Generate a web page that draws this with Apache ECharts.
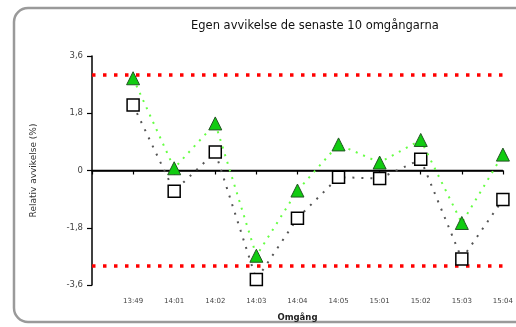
<!DOCTYPE html>
<html>
<head>
<meta charset="utf-8">
<script src="https://cdn.jsdelivr.net/npm/echarts@6/dist/echarts.min.js"></script>
<style>
  html, body { margin: 0; padding: 0; background: #fff; }
  #chart { width: 516px; height: 327px; }
</style>
</head>
<body>
<div id="chart"></div>
<script>
// Rounds (x-axis categories)
const rounds = ['13:49', '14:01', '14:02', '14:03', '14:04', '14:05', '15:01', '15:02', '15:03', '15:04'];
// Relative deviation per round (%)
const deviationA = [2.9, 0.07, 1.48, -2.68, -0.63, 0.82, 0.25, 0.96, -1.65, 0.5];
const deviationB = [2.06, -0.65, 0.58, -3.43, -1.5, -0.21, -0.25, 0.35, -2.78, -0.91];
// Limit lines
const upperLimit = 3;
const lowerLimit = -3;
// Y axis range
const yMin = -3.6, yMax = 3.6, yStep = 1.8;

const toPoints = arr => arr.map((v, i) => [i + 1, v]);
const span = v => [[0, v], [rounds.length, v]];

const font = 'DejaVu Sans, Verdana, sans-serif';
const chart = echarts.init(document.getElementById('chart'), null, { renderer: 'canvas' });

chart.setOption({
  animation: false,
  backgroundColor: '#fff',
  graphic: [{
    type: 'rect',
    shape: { x: 14, y: 8, width: 560, height: 314, r: 14 },
    style: { fill: 'none', stroke: '#9a9a9a', lineWidth: 2.5 },
    silent: true,
    z: -1
  }],
  title: {
    text: 'Egen avvikelse de senaste 10 omgångarna',
    left: 186, top: 15,
    textStyle: { fontFamily: font, fontSize: 11.5, fontWeight: 'normal', color: '#111' }
  },
  grid: { left: 92, top: 56, width: 414, height: 234, containLabel: false },
  xAxis: {
    type: 'value',
    min: 0, max: rounds.length, interval: 1,
    name: 'Omgång',
    nameLocation: 'middle',
    nameGap: 28,
    nameTextStyle: { fontFamily: font, fontSize: 8.5, fontWeight: 'bold', color: '#222' },
    axisLine: { lineStyle: { color: '#000', width: 1.5 } },
    axisTick: { length: 4, lineStyle: { color: '#000', width: 1.2 } },
    axisLabel: {
      fontFamily: font, fontSize: 7, color: '#444', margin: 13,
      formatter: v => (v >= 1 && v <= rounds.length) ? rounds[v - 1] : ''
    },
    splitLine: { show: false }
  },
  yAxis: {
    type: 'value',
    min: yMin, max: yMax, interval: yStep,
    name: 'Relativ avvikelse (%)',
    nameLocation: 'middle',
    nameGap: 54,
    nameRotate: 90,
    nameTextStyle: { fontFamily: font, fontSize: 9, color: '#333' },
    axisLine: { show: true, lineStyle: { color: '#000', width: 1.5 } },
    axisTick: { show: true, length: 5, lineStyle: { color: '#000', width: 1.2 } },
    axisLabel: {
      fontFamily: font, fontSize: 8.5, color: '#444', margin: 9,
      formatter: v => String(Math.round(v * 10) / 10).replace('.', ',')
    },
    splitLine: { show: false }
  },
  series: [
    {
      name: 'zero', type: 'line', data: span(0), symbol: 'none', silent: true,
      lineStyle: { color: '#000', width: 1.5 }, z: 1
    },
    {
      name: 'upper', type: 'line', data: span(upperLimit), symbol: 'none', silent: true,
      lineStyle: { color: '#ff0000', width: 3.5, type: [3.5, 7.5], cap: 'butt' }, z: 2
    },
    {
      name: 'lower', type: 'line', data: span(lowerLimit), symbol: 'none', silent: true,
      lineStyle: { color: '#ff0000', width: 3.5, type: [3.5, 7.5], cap: 'butt' }, z: 2
    },
    {
      name: 'B', type: 'line', data: toPoints(deviationB),
      symbol: 'rect', symbolSize: 12, showAllSymbol: true,
      itemStyle: { color: '#fff', borderColor: '#000', borderWidth: 1.5 },
      lineStyle: { color: '#555', width: 2, type: [2, 7] }, z: 3
    },
    {
      name: 'A', type: 'line', data: toPoints(deviationA),
      symbol: 'triangle', symbolSize: 13, showAllSymbol: true,
      itemStyle: { color: '#11cc11', borderColor: '#225522', borderWidth: 1 },
      lineStyle: { color: '#66ff44', width: 2, type: [2, 6] }, z: 4
    }
  ]
});
</script>
</body>
</html>
